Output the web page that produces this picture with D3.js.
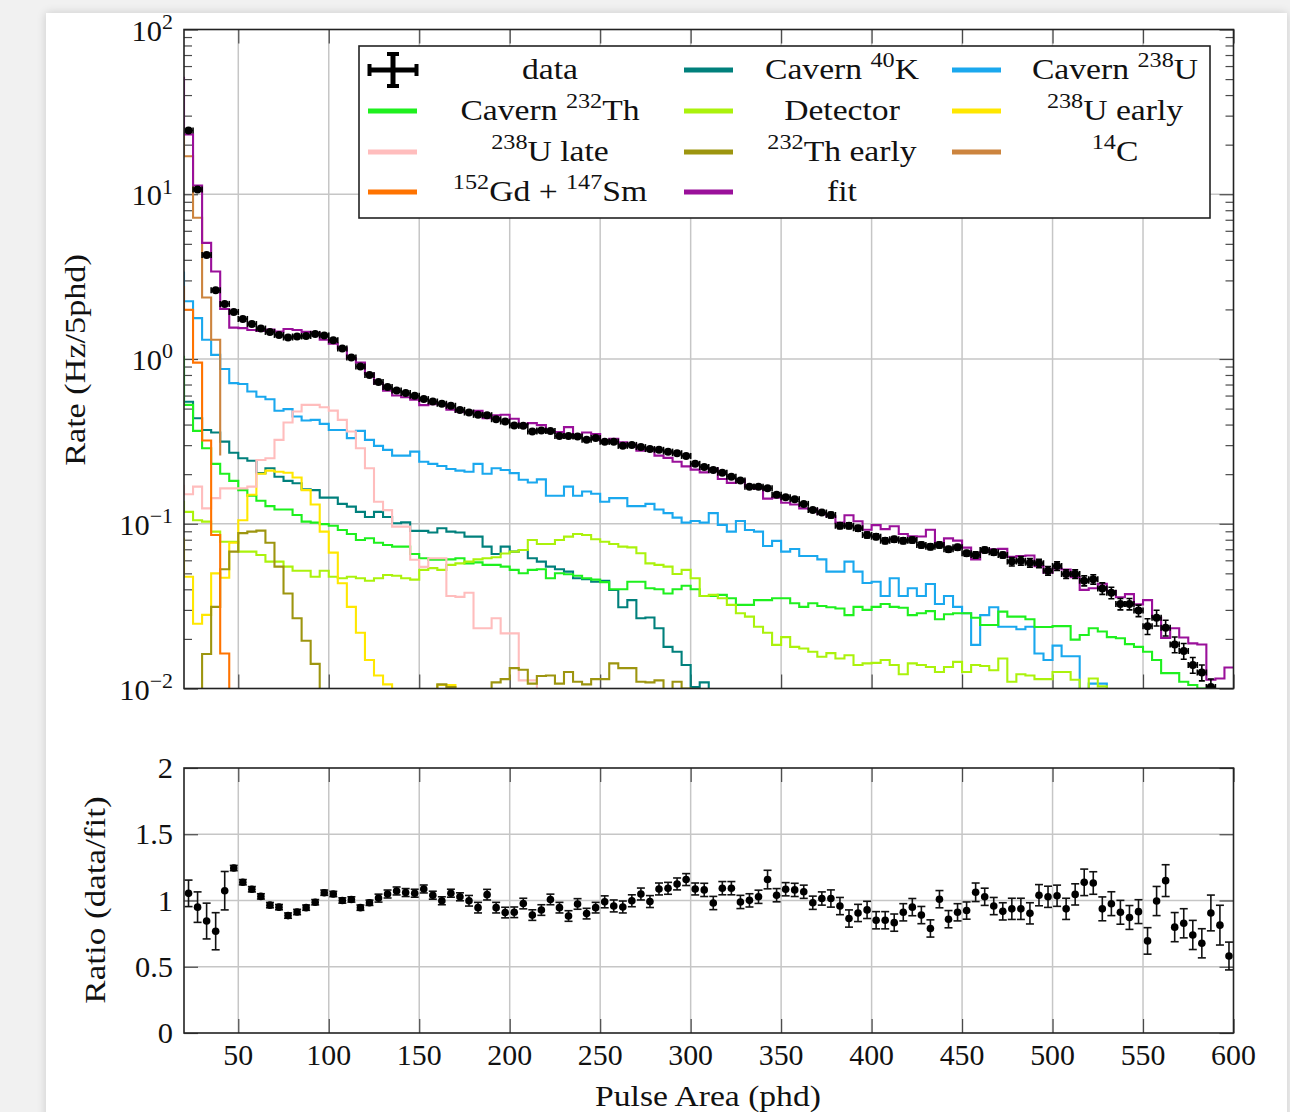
<!DOCTYPE html>
<html>
<head>
<meta charset="utf-8">
<script src="https://cdn.jsdelivr.net/npm/d3@7"></script>
<style>
  html, body { margin: 0; padding: 0; }
  body { width: 1290px; height: 1112px; overflow: hidden; background: #f1f1f1; position: relative; }
  #card { position: absolute; left: 46px; top: 13px; width: 1241px; height: 1130px; background: #fff;
          box-shadow: 0 0 9px rgba(0,0,0,0.16); }
  svg { position: absolute; left: 0; top: 0; }
  text { font-family: "Liberation Serif", "Times New Roman", serif; fill: #111; }
</style>
</head>
<body>
<div id="card"></div>
<svg id="chart" width="1290" height="1112"></svg>
<script>
// ---- binning: 5 phd bins from 20 to 600 phd ----
const binWidth = 5;
const firstBin = 20;
const modelStart = 15;          // model histograms carry the 15-20 phd bin as their first entry

const xTickValues = [50, 100, 150, 200, 250, 300, 350, 400, 450, 500, 550, 600];
const rateTickExponents = [2, 1, 0, -1, -2];
const ratioTickValues = [0, 0.5, 1, 1.5, 2];
const ratioTickLabels = ["0", "0.5", "1", "1.5", "2"];

// measured rate per bin (Hz / 5 phd), bins 20-25 ... 595-600
const dataRate = [
  24.4, 10.7, 4.28, 2.61, 2.16, 1.93, 1.75, 1.63, 1.53, 1.46,
  1.40, 1.35, 1.37, 1.38, 1.42, 1.39, 1.30, 1.16, 1.02, 0.90,
  0.80, 0.724, 0.675, 0.644, 0.621, 0.598, 0.571, 0.552, 0.535, 0.520,
  0.491, 0.473, 0.458, 0.456, 0.431, 0.417, 0.395, 0.393, 0.363, 0.368,
  0.366, 0.341, 0.341, 0.338, 0.323, 0.331, 0.315, 0.315, 0.297, 0.301,
  0.292, 0.284, 0.281, 0.274, 0.268, 0.258, 0.231, 0.221, 0.212, 0.204,
  0.193, 0.183, 0.168, 0.168, 0.164, 0.150, 0.145, 0.141, 0.132, 0.121,
  0.117, 0.113, 0.0973, 0.0973, 0.0939, 0.0855, 0.0835, 0.0789, 0.0805, 0.0789,
  0.0797, 0.0744, 0.0726, 0.0744, 0.0700, 0.0720, 0.0662, 0.0646, 0.0693, 0.0671,
  0.0646, 0.0589, 0.0597, 0.0580, 0.0575, 0.0519, 0.0554, 0.0495, 0.0495, 0.0451,
  0.0460, 0.0405, 0.0381, 0.0326, 0.0326, 0.0297, 0.0239, 0.0269, 0.0234, 0.0185,
  0.0169, 0.0139, 0.0125, 0.0102, 0.0094, 0.0078
];

// relative statistical uncertainty on the measured rate
const rateRelErr = [
  0.010, 0.010, 0.010, 0.010, 0.010, 0.010, 0.010, 0.010, 0.010, 0.010,
  0.010, 0.010, 0.010, 0.010, 0.010, 0.010, 0.010, 0.010, 0.010, 0.010,
  0.010, 0.015, 0.015, 0.015, 0.015, 0.015, 0.015, 0.015, 0.015, 0.015,
  0.015, 0.015, 0.015, 0.015, 0.015, 0.015, 0.015, 0.015, 0.015, 0.015,
  0.015, 0.015, 0.015, 0.015, 0.015, 0.015, 0.020, 0.020, 0.020, 0.020,
  0.020, 0.020, 0.020, 0.020, 0.020, 0.020, 0.020, 0.020, 0.020, 0.020,
  0.020, 0.020, 0.020, 0.020, 0.025, 0.020, 0.020, 0.020, 0.020, 0.020,
  0.020, 0.040, 0.040, 0.040, 0.040, 0.040, 0.040, 0.040, 0.040, 0.040,
  0.040, 0.040, 0.040, 0.040, 0.040, 0.040, 0.040, 0.045, 0.040, 0.040,
  0.040, 0.060, 0.060, 0.060, 0.060, 0.060, 0.060, 0.060, 0.060, 0.070,
  0.065, 0.080, 0.080, 0.080, 0.080, 0.080, 0.110, 0.110, 0.110, 0.110,
  0.110, 0.110, 0.110, 0.120, 0.130, 0.120
];

// data / fit per bin
const ratio = [
  1.054, 0.950, 0.845, 0.768, 1.074, 1.245, 1.138, 1.085, 1.031, 0.965,
  0.950, 0.886, 0.913, 0.946, 0.987, 1.059, 1.049, 1.000, 1.008, 0.946,
  0.983, 1.018, 1.049, 1.072, 1.060, 1.055, 1.087, 1.040, 0.998, 1.055,
  1.028, 0.998, 0.946, 1.044, 0.946, 0.909, 0.911, 0.977, 0.890, 0.928,
  1.008, 0.946, 0.883, 0.974, 0.901, 0.946, 0.990, 0.959, 0.951, 0.998,
  1.049, 0.992, 1.087, 1.092, 1.125, 1.158, 1.087, 1.080, 0.981, 1.093,
  1.093, 0.989, 1.001, 1.028, 1.158, 1.040, 1.085, 1.080, 1.066, 0.983,
  1.015, 1.015, 0.958, 0.864, 0.906, 0.929, 0.851, 0.851, 0.833, 0.911,
  0.950, 0.890, 0.789, 1.010, 0.859, 0.911, 0.924, 1.062, 1.028, 0.958,
  0.918, 0.937, 0.937, 0.903, 1.040, 1.028, 1.036, 0.937, 1.046, 1.137,
  1.132, 0.937, 0.976, 0.911, 0.872, 0.916, 0.695, 0.996, 1.150, 0.799,
  0.828, 0.740, 0.677, 0.906, 0.814, 0.581
];

// uncertainty on the ratio
const ratioErr = [
  0.100, 0.115, 0.135, 0.140, 0.145, 0.020, 0.020, 0.020, 0.020, 0.020,
  0.020, 0.020, 0.020, 0.020, 0.020, 0.020, 0.020, 0.020, 0.020, 0.020,
  0.020, 0.030, 0.030, 0.030, 0.030, 0.030, 0.030, 0.030, 0.030, 0.030,
  0.030, 0.040, 0.040, 0.040, 0.040, 0.040, 0.040, 0.040, 0.040, 0.040,
  0.040, 0.040, 0.040, 0.040, 0.040, 0.040, 0.045, 0.045, 0.045, 0.045,
  0.045, 0.045, 0.045, 0.045, 0.045, 0.045, 0.045, 0.050, 0.050, 0.050,
  0.050, 0.050, 0.050, 0.050, 0.070, 0.050, 0.050, 0.050, 0.050, 0.050,
  0.050, 0.065, 0.065, 0.065, 0.065, 0.065, 0.065, 0.065, 0.065, 0.065,
  0.065, 0.065, 0.065, 0.065, 0.065, 0.065, 0.065, 0.070, 0.065, 0.065,
  0.065, 0.080, 0.080, 0.080, 0.080, 0.080, 0.080, 0.080, 0.080, 0.100,
  0.085, 0.090, 0.090, 0.090, 0.090, 0.090, 0.100, 0.110, 0.120, 0.110,
  0.110, 0.110, 0.110, 0.135, 0.150, 0.105
];

// total fit, 15-20 phd bin first, closing value at 600 phd last
const fitRate = [
  51,
  23.1, 11.3, 5.07, 3.40, 2.01, 1.55, 1.54, 1.50, 1.48, 1.51,
  1.47, 1.52, 1.50, 1.46, 1.44, 1.31, 1.24, 1.16, 1.01, 0.951,
  0.814, 0.711, 0.643, 0.601, 0.586, 0.567, 0.525, 0.531, 0.536, 0.493,
  0.478, 0.474, 0.484, 0.437, 0.456, 0.459, 0.434, 0.402, 0.408, 0.397,
  0.363, 0.360, 0.386, 0.347, 0.358, 0.350, 0.318, 0.328, 0.312, 0.302,
  0.278, 0.286, 0.259, 0.251, 0.238, 0.223, 0.213, 0.205, 0.216, 0.187,
  0.177, 0.185, 0.168, 0.163, 0.142, 0.144, 0.134, 0.131, 0.124, 0.123,
  0.115, 0.111, 0.1016, 0.1126, 0.1036, 0.0920, 0.0981, 0.0927, 0.0966, 0.0866,
  0.0839, 0.0836, 0.0920, 0.0737, 0.0815, 0.0790, 0.0716, 0.0608, 0.0674, 0.0700,
  0.0704, 0.0629, 0.0637, 0.0642, 0.0553, 0.0505, 0.0535, 0.0528, 0.0473, 0.0397,
  0.0406, 0.0432, 0.0390, 0.0358, 0.0374, 0.0324, 0.0344, 0.0270, 0.0203, 0.0232,
  0.0204, 0.0188, 0.0185, 0.0113, 0.0115, 0.0134,
  0.0134
];

// background components (values from 15 phd in 5 phd steps; last entry closes the histogram)
const cavernK40 = [
  0.9,
  0.55, 0.437, 0.371, 0.358, 0.315, 0.270, 0.250, 0.241, 0.203, 0.217,
  0.193, 0.182, 0.176, 0.162, 0.160, 0.144, 0.144, 0.132, 0.127, 0.118,
  0.110, 0.118, 0.110, 0.1006, 0.102, 0.0905, 0.0905, 0.0884, 0.0939, 0.0896,
  0.0884, 0.0835, 0.0835, 0.0726, 0.0655, 0.0726, 0.0677, 0.0693, 0.0617, 0.0589,
  0.0549, 0.0529, 0.0512, 0.0467, 0.0460, 0.0445, 0.0450, 0.0396, 0.0311, 0.0344,
  0.0267, 0.0270, 0.0232, 0.0179, 0.0167, 0.0139, 0.0102, 0.0109,
  0
];
const cavernU238 = [
  3.35,
  2.24, 1.77, 1.31, 1.06, 0.87, 0.714, 0.705, 0.635, 0.59, 0.57,
  0.485, 0.496, 0.448, 0.423, 0.427, 0.404, 0.371, 0.371, 0.331, 0.366,
  0.323, 0.297, 0.281, 0.259, 0.259, 0.274, 0.238, 0.231, 0.224, 0.215,
  0.210, 0.207, 0.231, 0.201, 0.217, 0.212, 0.203, 0.185, 0.178, 0.186,
  0.148, 0.148, 0.168, 0.148, 0.157, 0.152, 0.136, 0.143, 0.143, 0.128,
  0.128, 0.132, 0.122, 0.116, 0.109, 0.1016, 0.104, 0.1016, 0.116, 0.0984,
  0.0896, 0.104, 0.0917, 0.0896, 0.0733, 0.0787, 0.0677, 0.0703, 0.0637, 0.0637,
  0.0608, 0.0512, 0.0512, 0.0589, 0.0512, 0.0437, 0.0445, 0.0364, 0.0467, 0.0364,
  0.0406, 0.0364, 0.0431, 0.0326, 0.0364, 0.0313, 0.0286, 0.0184, 0.0279, 0.0311,
  0.0237, 0.0237, 0.0229, 0.0237, 0.0163, 0.0149, 0.0182, 0.0157, 0.0157, 0.0085,
  0.0107, 0.0107,
  0
];
const cavernTh232 = [
  1.03,
  0.527, 0.366, 0.287, 0.231, 0.201, 0.182, 0.160, 0.148, 0.138, 0.128,
  0.122, 0.122, 0.113, 0.103, 0.1016, 0.0995, 0.0973, 0.0917, 0.0866, 0.0797,
  0.0816, 0.0766, 0.0743, 0.0726, 0.0726, 0.0655, 0.0617, 0.0604, 0.0604, 0.0608,
  0.0617, 0.0575, 0.0583, 0.0563, 0.0563, 0.0549, 0.0525, 0.0501, 0.0525, 0.0529,
  0.0467, 0.0501, 0.0494, 0.0483, 0.0467, 0.0458, 0.0442, 0.0400, 0.0400, 0.0445,
  0.0445, 0.0406, 0.0400, 0.0377, 0.0400, 0.0420, 0.0400, 0.0364, 0.0364, 0.0370,
  0.0353, 0.0322, 0.0322, 0.0344, 0.0344, 0.0353, 0.0353, 0.0329, 0.0313, 0.0329,
  0.0317, 0.0311, 0.0306, 0.0279, 0.0313, 0.0300, 0.0313, 0.0326, 0.0313, 0.0309,
  0.0279, 0.0286, 0.0295, 0.0263, 0.0282, 0.0286, 0.0286, 0.0269, 0.0243, 0.0243,
  0.0293, 0.0273, 0.0273, 0.0263, 0.0236, 0.0236, 0.0239, 0.0239, 0.0198, 0.0211,
  0.0232, 0.0222, 0.0205, 0.0202, 0.0186, 0.0179, 0.0167, 0.0149, 0.0124, 0.0124,
  0.0110, 0.0105, 0.0100,
  0.008
];
const detector = [
  0.136,
  0.118, 0.105, 0.103, 0.0896, 0.0778, 0.0778, 0.0677, 0.0677, 0.0646, 0.0589,
  0.0589, 0.0549, 0.0519, 0.0519, 0.0477, 0.0519, 0.0477, 0.0467, 0.0477, 0.0467,
  0.0451, 0.0467, 0.0489, 0.0483, 0.0467, 0.0458, 0.0525, 0.0538, 0.0525, 0.0563,
  0.0575, 0.0589, 0.0608, 0.0617, 0.0626, 0.066, 0.0677, 0.0693, 0.0797, 0.0754,
  0.0754, 0.0797, 0.0835, 0.0867, 0.0855, 0.0805, 0.0778, 0.0754, 0.0726, 0.0719,
  0.0662, 0.0575, 0.0563, 0.0549, 0.0495, 0.0525, 0.0467, 0.0364, 0.0370, 0.0353,
  0.0322, 0.0286, 0.0273, 0.0237, 0.0218, 0.0184, 0.0205, 0.0179, 0.0175, 0.0167,
  0.0156, 0.0164, 0.0152, 0.0159, 0.0139, 0.0142, 0.0143, 0.0149, 0.0139, 0.0122,
  0.0142, 0.0139, 0.0135, 0.0126, 0.0135, 0.0145, 0.0126, 0.0139, 0.0137, 0.0129,
  0.0152, 0.0110, 0.0122, 0.0120, 0.0114, 0.0114, 0.0126, 0.0126, 0.0113, 0.0098,
  0.0115, 0.0103, 0.009,
  0.005
];
const u238Early = [
  0.081,
  0.0477, 0.0247, 0.028, 0.050, 0.047, 0.0766, 0.105, 0.150, 0.201, 0.210,
  0.207, 0.204, 0.191, 0.160, 0.131, 0.0896, 0.0668, 0.0435, 0.0313, 0.0218,
  0.0149, 0.0120, 0.0106, 0.009, 0.009, 0.009, 0.009, 0.009, 0.0105, 0.0105,
  0
];
const u238Late = [
  0.17,
  0.151, 0.168, 0.124, 0.143, 0.164, 0.164, 0.164, 0.168, 0.244, 0.25,
  0.323, 0.412, 0.48, 0.527, 0.527, 0.51, 0.486, 0.427, 0.363, 0.287,
  0.217, 0.136, 0.121, 0.096, 0.096, 0.0604, 0.0547, 0.0617, 0.0617, 0.0364,
  0.036, 0.0381, 0.0232, 0.0232, 0.0267, 0.0216, 0.0216, 0.0112, 0.0112,
  0
];
const th232Early = [
  0.004,
  0.004, 0.004, 0.0162, 0.0313, 0.0529, 0.0677, 0.0877, 0.0896, 0.0909, 0.0766,
  0.0549, 0.0377, 0.0267, 0.0195, 0.0141, 0.006, 0.006, 0.006, 0.006, 0.006,
  0.006, 0.006, 0.006, 0.006, 0.006, 0.006, 0.006, 0.009, 0.0106, 0.0102,
  0.009, 0.009, 0.009, 0.009, 0.0109, 0.0114, 0.0133, 0.0130, 0.0107, 0.0119,
  0.0120, 0.0107, 0.0126, 0.0110, 0.0106, 0.0114, 0.0114, 0.0142, 0.0133, 0.0133,
  0.0110, 0.0109, 0.0112, 0.0098, 0.0110, 0.0100,
  0
];
const carbon14 = [23, 17, 7.2, 2.36, 1.31, 0.26];
const gdSm = [2.73, 1.99, 0.95, 0.32, 0.0855, 0.0163, 0.001];

// ---- layout ----
const svg = d3.select("#chart");
const plotLeft = 184, plotRight = 1233.5;
const topPanel = { top: 29.5, bottom: 688.5 };
const ratioPanel = { top: 768, bottom: 1033 };

const x = d3.scaleLinear().domain([20, 600]).range([plotLeft, plotRight]);
const yRate = d3.scaleLog().domain([0.01, 100]).range([topPanel.bottom, topPanel.top]);
const yRatio = d3.scaleLinear().domain([0, 2]).range([ratioPanel.bottom, ratioPanel.top]);

const gridColor = "#c6c6c6";
const tickColor = "#4a4a4a";
const fontSize = 29;

// ---- grid lines ----
function drawGrid(yScale, yVals, panel) {
  const g = svg.append("g");
  g.selectAll("line.vx").data(xTickValues.filter(v => v < 600)).join("line")
    .attr("x1", d => x(d)).attr("x2", d => x(d))
    .attr("y1", panel.top).attr("y2", panel.bottom)
    .attr("stroke", gridColor).attr("stroke-width", 1.5);
  g.selectAll("line.hy").data(yVals).join("line")
    .attr("x1", plotLeft).attr("x2", plotRight)
    .attr("y1", d => yScale(d)).attr("y2", d => yScale(d))
    .attr("stroke", gridColor).attr("stroke-width", 1.5);
}
drawGrid(yRate, [0.1, 1, 10], topPanel);
drawGrid(yRatio, [0.5, 1, 1.5], ratioPanel);

// ---- tick marks (inside the frame, via d3 axes) ----
function styleTicks(sel, width) {
  sel.select(".domain").remove();
  sel.selectAll(".tick line").attr("stroke", tickColor).attr("stroke-width", width);
  sel.selectAll(".tick text").remove();
}
const minorRate = [];
[-2, -1, 0, 1].forEach(e => { for (let m = 2; m <= 9; m++) minorRate.push(m * Math.pow(10, e)); });
const majorRate = rateTickExponents.map(e => Math.pow(10, e));

svg.append("g").attr("transform", `translate(${plotLeft},0)`)
  .call(d3.axisLeft(yRate).tickValues(minorRate).tickSize(-8).tickFormat(""))
  .call(s => styleTicks(s, 1.2));
svg.append("g").attr("transform", `translate(${plotRight},0)`)
  .call(d3.axisRight(yRate).tickValues(minorRate).tickSize(-8).tickFormat(""))
  .call(s => styleTicks(s, 1.2));
svg.append("g").attr("transform", `translate(${plotLeft},0)`)
  .call(d3.axisLeft(yRate).tickValues(majorRate).tickSize(-14).tickFormat(""))
  .call(s => styleTicks(s, 1.2));
svg.append("g").attr("transform", `translate(${plotRight},0)`)
  .call(d3.axisRight(yRate).tickValues(majorRate).tickSize(-14).tickFormat(""))
  .call(s => styleTicks(s, 1.2));
svg.append("g").attr("transform", `translate(${plotLeft},0)`)
  .call(d3.axisLeft(yRatio).tickValues(ratioTickValues).tickSize(-14).tickFormat(""))
  .call(s => styleTicks(s, 1.2));
svg.append("g").attr("transform", `translate(${plotRight},0)`)
  .call(d3.axisRight(yRatio).tickValues(ratioTickValues).tickSize(-14).tickFormat(""))
  .call(s => styleTicks(s, 1.2));
[[topPanel.bottom, d3.axisBottom], [topPanel.top, d3.axisTop],
 [ratioPanel.bottom, d3.axisBottom], [ratioPanel.top, d3.axisTop]].forEach(([yy, ax]) => {
  svg.append("g").attr("transform", `translate(0,${yy})`)
    .call(ax(x).tickValues(xTickValues).tickSize(-14).tickFormat(""))
    .call(s => styleTicks(s, 1.2));
});

// ---- histograms (const/step plots, clipped to the rate panel) ----
svg.append("clipPath").attr("id", "rateClip").append("rect")
  .attr("x", plotLeft).attr("y", topPanel.top)
  .attr("width", plotRight - plotLeft).attr("height", topPanel.bottom - topPanel.top);

const stepLine = d3.line()
  .x(d => x(d[0]))
  .y(d => yRate(Math.max(d[1], 1e-4)))
  .curve(d3.curveStepAfter);

const components = [
  { name: "Cavern 40K", vals: cavernK40, color: "#00807c" },
  { name: "Cavern 238U", vals: cavernU238, color: "#1aa8ee" },
  { name: "Cavern 232Th", vals: cavernTh232, color: "#1ef01e" },
  { name: "Detector", vals: detector, color: "#abf20c" },
  { name: "238U early", vals: u238Early, color: "#ffe700" },
  { name: "238U late", vals: u238Late, color: "#ffbdbd" },
  { name: "232Th early", vals: th232Early, color: "#9d950f" },
  { name: "14C", vals: carbon14, color: "#cc843e" },
  { name: "152Gd + 147Sm", vals: gdSm, color: "#ff7300" },
  { name: "fit", vals: fitRate, color: "#9a109a" }
];

const histG = svg.append("g").attr("clip-path", "url(#rateClip)");
components.forEach(c => {
  const pts = c.vals.map((v, j) => [modelStart + binWidth * j, v]);
  histG.append("path").attr("d", stepLine(pts))
    .attr("fill", "none").attr("stroke", c.color).attr("stroke-width", 2.1)
    .attr("stroke-linejoin", "miter");
});

// ---- data points with error bars ----
const bins = dataRate.map((v, i) => {
  const lo = firstBin + binWidth * i;
  return { lo, hi: lo + binWidth, mid: lo + binWidth / 2, rate: v, rel: rateRelErr[i],
           ratio: ratio[i], rerr: ratioErr[i] };
});

const dataG = svg.append("g").attr("clip-path", "url(#rateClip)");
const visible = bins.filter(b => b.rate >= 0.01);
visible.forEach(d => {
  const g = dataG.append("g");
  const cy = yRate(d.rate);
  const up = yRate(d.rate * (1 + d.rel)), dn = yRate(d.rate * (1 - d.rel));
  const line = (a, b, c, e) => g.append("line").attr("x1", a).attr("y1", b).attr("x2", c).attr("y2", e)
    .attr("stroke", "#000").attr("stroke-width", 1.6);
  line(x(d.lo), cy, x(d.hi), cy);
  line(x(d.lo), cy - 3, x(d.lo), cy + 3);
  line(x(d.hi), cy - 3, x(d.hi), cy + 3);
  line(x(d.mid), up, x(d.mid), dn);
  line(x(d.mid) - 3, up, x(d.mid) + 3, up);
  line(x(d.mid) - 3, dn, x(d.mid) + 3, dn);
});
dataG.selectAll("circle").data(visible).join("circle")
  .attr("cx", d => x(d.mid)).attr("cy", d => yRate(d.rate)).attr("r", 4)
  .attr("fill", "#000");

// ---- ratio panel ----
const ratioG = svg.append("g");
ratioG.selectAll("line.re").data(bins).join("line")
  .attr("x1", d => x(d.mid)).attr("x2", d => x(d.mid))
  .attr("y1", d => yRatio(d.ratio + d.rerr)).attr("y2", d => yRatio(d.ratio - d.rerr))
  .attr("stroke", "#111").attr("stroke-width", 1.6);
ratioG.selectAll("line.rcapT").data(bins).join("line")
  .attr("x1", d => x(d.mid) - 4).attr("x2", d => x(d.mid) + 4)
  .attr("y1", d => yRatio(d.ratio + d.rerr)).attr("y2", d => yRatio(d.ratio + d.rerr))
  .attr("stroke", "#111").attr("stroke-width", 1.6);
ratioG.selectAll("line.rcapB").data(bins).join("line")
  .attr("x1", d => x(d.mid) - 4).attr("x2", d => x(d.mid) + 4)
  .attr("y1", d => yRatio(d.ratio - d.rerr)).attr("y2", d => yRatio(d.ratio - d.rerr))
  .attr("stroke", "#111").attr("stroke-width", 1.6);
ratioG.selectAll("circle").data(bins).join("circle")
  .attr("cx", d => x(d.mid)).attr("cy", d => yRatio(d.ratio)).attr("r", 3.8)
  .attr("fill", "#000");

// ---- frames ----
[topPanel, ratioPanel].forEach(p => {
  svg.append("rect").attr("x", plotLeft).attr("y", p.top)
    .attr("width", plotRight - plotLeft).attr("height", p.bottom - p.top)
    .attr("fill", "none").attr("stroke", "#222").attr("stroke-width", 1.6);
});

// ---- text helper: runs of [text, isSuperscript], with optional horizontal stretch ----
function richText(parent, runs, xPos, yPos, anchor, size, stretch = 1, rotate = 0) {
  const t = parent.append("text")
    .attr("transform", `translate(${xPos},${yPos}) rotate(${rotate}) scale(${stretch},1)`)
    .attr("text-anchor", anchor).attr("font-size", size);
  const supSize = size * 0.72, rise = size * 0.4;
  let raised = false;
  runs.forEach(([s, sup]) => {
    const span = t.append("tspan").text(s);
    if (sup) span.attr("font-size", supSize);
    if (sup && !raised) { span.attr("dy", -rise); raised = true; }
    else if (!sup && raised) { span.attr("dy", rise); raised = false; }
  });
  return t;
}

// rate tick labels: 10^k
rateTickExponents.forEach(e => {
  richText(svg, [["10", false], [e < 0 ? "\u2212" + (-e) : String(e), true]],
    173, yRate(Math.pow(10, e)) + 11, "end", fontSize, 1.05);
});
// ratio tick labels
ratioTickValues.forEach((v, i) => {
  richText(svg, [[ratioTickLabels[i], false]], 173, yRatio(v) + 10, "end", fontSize, 1.05);
});
// x tick labels
xTickValues.forEach(v => {
  richText(svg, [[String(v), false]], x(v), 1065, "middle", fontSize, 1.03);
});

// axis titles
richText(svg, [["Rate (Hz/5phd)", false]], 85, 360, "middle", 30, 1.14, -90);
richText(svg, [["Ratio (data/fit)", false]], 105, 900, "middle", 30, 1.17, -90);
richText(svg, [["Pulse Area (phd)", false]], 708, 1106, "middle", 30, 1.12);

// ---- legend ----
const legend = svg.append("g");
legend.append("rect").attr("x", 359).attr("y", 46).attr("width", 851).attr("height", 172)
  .attr("fill", "#fff").attr("stroke", "#222").attr("stroke-width", 1.6);

const legendRows = [70, 111, 152, 192];
const legendCols = [{ sx: 368, tx: 550 }, { sx: 684, tx: 842 }, { sx: 952, tx: 1115 }];
const legendEntries = [
  { runs: [["data", false]], type: "data" },
  { runs: [["Cavern ", false], ["40", true], ["K", false]], color: components[0].color },
  { runs: [["Cavern ", false], ["238", true], ["U", false]], color: components[1].color },
  { runs: [["Cavern ", false], ["232", true], ["Th", false]], color: components[2].color },
  { runs: [["Detector", false]], color: components[3].color },
  { runs: [["238", true], ["U early", false]], color: components[4].color },
  { runs: [["238", true], ["U late", false]], color: components[5].color },
  { runs: [["232", true], ["Th early", false]], color: components[6].color },
  { runs: [["14", true], ["C", false]], color: components[7].color },
  { runs: [["152", true], ["Gd + ", false], ["147", true], ["Sm", false]], color: components[8].color },
  { runs: [["fit", false]], color: components[9].color }
];
legendEntries.forEach((e, i) => {
  const row = Math.floor(i / 3), col = i % 3;
  const cy = legendRows[row], c = legendCols[col];
  if (e.type === "data") {
    const mx = c.sx + 25;
    legend.append("line").attr("x1", c.sx).attr("x2", c.sx + 50).attr("y1", cy).attr("y2", cy)
      .attr("stroke", "#000").attr("stroke-width", 5);
    legend.append("line").attr("x1", mx).attr("x2", mx).attr("y1", cy - 17).attr("y2", cy + 17)
      .attr("stroke", "#000").attr("stroke-width", 5);
    [[c.sx + 1.5, cy - 6, c.sx + 1.5, cy + 6], [c.sx + 48.5, cy - 6, c.sx + 48.5, cy + 6],
     [mx - 6, cy - 16, mx + 6, cy - 16], [mx - 6, cy + 16, mx + 6, cy + 16]].forEach(([a, b, cc, d]) =>
      legend.append("line").attr("x1", a).attr("y1", b).attr("x2", cc).attr("y2", d)
        .attr("stroke", "#000").attr("stroke-width", 4));
  } else {
    legend.append("line").attr("x1", c.sx).attr("x2", c.sx + 49).attr("y1", cy).attr("y2", cy)
      .attr("stroke", e.color).attr("stroke-width", 5);
  }
  richText(legend, e.runs, c.tx, cy + 9, "middle", fontSize, 1.16);
});
</script>
</body>
</html>
